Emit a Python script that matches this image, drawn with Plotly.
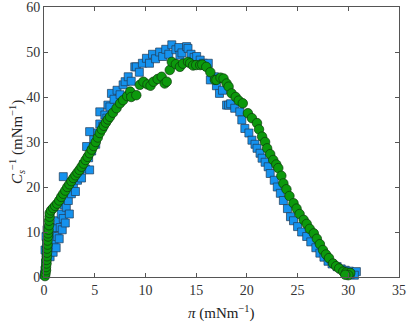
import plotly.graph_objects as go

# Series 1: blue squares (surface pressure pi, compressional modulus Cs^-1)
blue_pi = [0.05, 0.1, 0.15, 0.2, 0.1, 0.25, 0.2, 0.3, 0.4, 0.5, 0.6, 0.7, 0.8, 0.9, 1.0, 1.1, 1.2, 1.3,
           1.4, 1.5, 1.6, 1.7, 1.8, 1.9, 2.0, 2.1, 2.2, 2.4, 2.5, 1.9, 2.7, 2.9, 3.1, 3.3, 3.5, 3.7,
           3.9, 4.1, 4.2, 4.4, 4.5, 4.5, 4.7, 4.9, 5.1, 5.3, 5.5, 5.5, 5.8, 6.0, 6.2, 6.3, 6.5, 6.65,
           6.9, 7.2, 7.5, 7.8, 8.0, 8.3, 8.6, 8.95, 9.1, 9.4, 9.7, 10.1, 10.4, 10.7, 11.0, 11.4, 11.7,
           12.0, 12.3, 12.6, 13.0, 13.3, 13.4, 13.6, 14.06, 14.2, 14.5, 14.8, 15.05, 15.4, 15.7, 16.2,
           16.4, 16.8, 17.0, 17.3, 17.6, 18.0, 18.2, 18.4, 18.8, 19.3, 19.5, 19.8, 20.2, 20.5, 20.8,
           21.0, 21.3, 21.5, 21.8, 22.1, 22.3, 22.7, 23.0, 23.3, 23.6, 24.0, 24.3, 24.6, 25.0, 25.4,
           25.9, 26.3, 26.8, 27.2, 27.6, 28.0, 28.4, 28.9, 29.3, 29.7, 30.1, 30.5, 30.8, 30.6, 30.2]
blue_cs = [0.5, 1.5, 3.0, 4.5, 6.0, 7.5, 9.0, 10.5, 8.0, 6.0, 4.5, 7.0, 9.5, 5.5, 8.0, 11.0, 6.5, 9.0,
           12.5, 8.5, 11.0, 14.0, 10.5, 13.0, 16.0, 12.0, 15.5, 17.0, 14.0, 22.3, 18.5, 20.0, 19.0, 21.5, 23.0, 22.0,
           25.0, 24.0, 29.0, 26.5, 23.8, 32.3, 28.0, 30.5, 29.5, 32.0, 34.0, 36.7, 33.5, 36.0, 35.3, 38.2, 37.8, 40.8,
           39.5, 41.5, 40.5, 42.7, 43.4, 44.5, 43.5, 46.7, 46.7, 45.5, 47.5, 48.6, 47.5, 49.5, 48.5, 50.0, 49.0,
           50.6, 49.5, 51.6, 50.5, 51.0, 49.3, 49.8, 51.2, 50.8, 49.5, 48.8, 49.0, 48.2, 47.5, 47.5,
           43.8, 44.5, 42.5, 40.8, 41.5, 38.2, 38.2, 38.5, 37.5, 36.7, 34.9, 33.0, 32.0, 30.4, 29.5,
           28.6, 27.5, 26.4, 25.5, 24.5, 23.0, 21.5, 20.0, 18.6, 17.0, 15.2, 13.4, 12.5, 11.2, 10.0,
           9.0, 7.8, 6.5, 5.3, 4.4, 3.5, 2.9, 2.3, 1.8, 1.5, 1.3, 1.0, 1.2, 0.4, 0.6]

# Series 2: green circles
green_pi = [0.1, 0.15, 0.2, 0.2, 0.25, 0.25, 0.3, 0.3, 0.3, 0.35, 0.35, 0.4, 0.4, 0.45, 0.5, 0.5, 0.55,
            0.56, 0.7, 0.9, 1.1, 1.3, 1.5, 1.7, 1.9, 2.1, 2.3, 2.5, 2.7, 2.9, 3.1, 3.3, 3.5, 3.7, 3.9,
            4.1, 4.3, 4.5, 4.7, 4.9, 5.1, 5.3, 5.5, 5.7, 5.9, 6.1, 6.3, 6.5, 6.8, 7.15, 7.5, 7.8, 8.2,
            8.5, 8.6, 9.1, 9.45, 9.8, 10.2, 10.5, 10.8, 11.2, 11.6, 11.9, 12.1, 12.4, 12.6, 13.0, 13.4,
            13.7, 14.2, 14.4, 14.7, 15.0, 15.4, 15.6, 16.0, 16.4, 16.85, 17.0, 17.4, 17.7, 18.0, 18.2,
            18.5, 18.9, 19.2, 19.6, 20.1, 20.5, 21.0, 21.2, 21.5, 21.8, 22.0, 22.3, 22.6, 22.9, 23.1,
            23.4, 23.6, 23.9, 24.2, 24.6, 24.9, 25.2, 25.6, 25.9, 26.2, 26.6, 26.9, 27.2, 27.5, 27.8,
            28.1, 28.5, 28.8, 29.1, 29.5, 29.8, 30.2, 30.0, 29.7]
green_cs = [0.2, 0.8, 1.5, 2.2, 3.0, 3.8, 4.6, 5.4, 6.3, 7.2, 8.1, 9.0, 9.7, 10.5, 11.5, 12.5, 13.4,
            14.2, 14.8, 15.3, 15.8, 16.3, 17.0, 17.8, 18.5, 19.2, 20.0, 20.6, 21.3, 22.0, 22.6, 23.2, 23.8, 24.5, 25.2,
            26.0, 26.7, 27.5, 28.3, 29.1, 30.0, 31.0, 32.0, 32.8, 33.6, 34.3, 35.0, 35.6, 36.5, 37.5, 38.6, 39.3, 40.2,
            41.2, 40.0, 40.4, 42.7, 43.4, 42.8, 42.5, 43.4, 44.0, 44.5, 43.0, 43.4, 46.0, 47.8, 47.3, 46.7,
            47.4, 47.8, 47.5, 47.0, 47.1, 47.1, 47.2, 46.7, 45.5, 43.8, 43.8, 44.3, 44.1, 43.0, 42.3,
            40.8, 40.0, 39.2, 38.6, 36.4, 35.3, 34.2, 32.8, 31.2, 30.0, 28.6, 27.3, 26.0, 25.0, 24.2,
            22.5, 20.8, 19.5, 18.0, 16.4, 15.2, 14.0, 12.7, 11.8, 10.7, 9.7, 8.5, 7.3, 6.0, 5.0,
            4.2, 3.0, 2.4, 1.9, 1.2, 1.0, 0.9, 0.4, 0.5]

x_ticks = [0, 5, 10, 15, 20, 25, 30, 35]
y_ticks = [0, 10, 20, 30, 40, 50, 60]
x_title = "<i>π</i> (mNm<sup>−1</sup>)"
y_title = "<i>C</i><sub><i>s</i></sub><sup>−1</sup> (mNm<sup>−1</sup>)"

fig = go.Figure()
fig.add_trace(go.Scatter(
    x=blue_pi, y=blue_cs, mode="markers",
    marker=dict(symbol="square", size=8, color="#1592ee",
                line=dict(color="#233b55", width=0.7)),
    showlegend=False, cliponaxis=False))
fig.add_trace(go.Scatter(
    x=green_pi, y=green_cs, mode="markers",
    marker=dict(symbol="circle", size=9.5, color="#0c990c",
                line=dict(color="#0b3a0b", width=0.7)),
    showlegend=False, cliponaxis=False))

axis_common = dict(
    showline=True, linecolor="#555555", linewidth=1, mirror="ticks",
    ticks="inside", ticklen=4, tickcolor="#555555", showgrid=False, zeroline=False,
    automargin=False, ticklabeloverflow="allow",
    tickfont=dict(family="Liberation Serif", size=14, color="#333333"),
)
fig.update_xaxes(range=[0, 35], tickvals=x_ticks, **axis_common)
fig.update_yaxes(range=[0, 60], tickvals=y_ticks, **axis_common)

title_font = dict(family="Liberation Serif", size=15, color="#222222")
fig.add_annotation(text=x_title, xref="paper", yref="paper", x=0.5, y=0,
                   xanchor="center", yanchor="middle", yshift=-35,
                   showarrow=False, font=title_font)
fig.add_annotation(text=y_title, xref="paper", yref="paper", x=0, y=0.5,
                   xanchor="center", yanchor="middle", xshift=-27, textangle=-90,
                   showarrow=False, font=title_font)

fig.update_layout(
    width=407, height=323,
    margin=dict(l=44, r=8, t=7, b=46),
    plot_bgcolor="white", paper_bgcolor="white",
)
fig.write_html("out.html", config={"displayModeBar": False},
               post_script="document.body.style.margin='0';document.body.style.overflow='hidden';")
